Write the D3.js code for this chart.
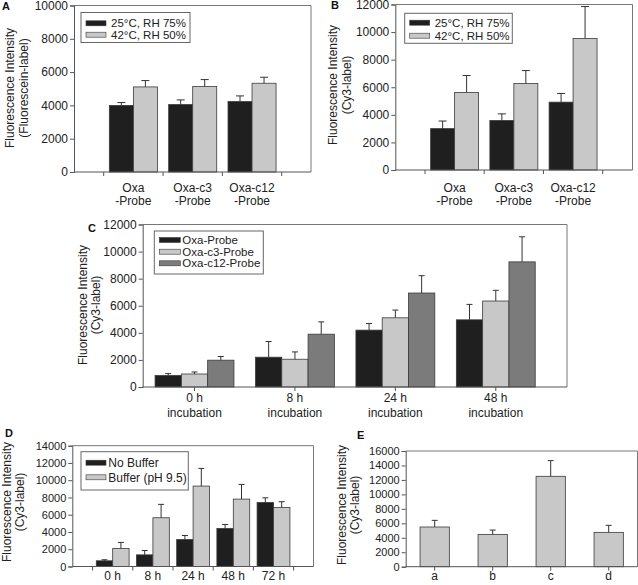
<!DOCTYPE html>
<html>
<head>
<meta charset="utf-8">
<script src="https://cdn.jsdelivr.net/npm/d3@7"></script>
<style>
  body { margin: 0; background: #fff; }
  svg { display: block; font-family: Arial, "Liberation Sans", sans-serif; }
</style>
</head>
<body>
<svg id="chart" width="638" height="585"></svg>
<script>
// ---------- DATA ----------
const seriesAB = ["25°C, RH 75%", "42°C, RH 50%"];
const catsAB = ["Oxa\n-Probe", "Oxa-c3\n-Probe", "Oxa-c12\n-Probe"];

const aLow = [4000, 4050, 4230];
const aLowErr = [170, 280, 340];
const aHigh = [5110, 5130, 5330];
const aHighErr = [380, 420, 360];

const bLow = [3000, 3590, 4920];
const bLowErr = [550, 480, 630];
const bHigh = [5620, 6270, 9540];
const bHighErr = [1230, 940, 2310];

const seriesC = ["Oxa-Probe", "Oxa-c3-Probe", "Oxa-c12-Probe"];
const catsC = ["0 h\nincubation", "8 h\nincubation", "24 h\nincubation", "48 h\nincubation"];
const cOxa = [850, 2200, 4200, 4960];
const cOxaErr = [140, 1160, 490, 1140];
const cC3 = [960, 2050, 5110, 6350];
const cC3Err = [150, 540, 570, 790];
const cC12 = [1980, 3900, 6940, 9240];
const cC12Err = [270, 910, 1280, 1850];

const seriesD = ["No Buffer", "Buffer (pH 9.5)"];
const catsD = ["0 h", "8 h", "24 h", "48 h", "72 h"];
const dNoBuf = [660, 1350, 3130, 4410, 7420];
const dNoBufErr = [120, 500, 460, 460, 540];
const dBuf = [2090, 5650, 9320, 7810, 6850];
const dBufErr = [700, 1550, 2050, 1700, 660];

const catsE = ["a", "b", "c", "d"];
const eVals = [5490, 4470, 12500, 4750];
const eErr = [920, 600, 2170, 970];

const ticksA = [0, 2000, 4000, 6000, 8000, 10000];
const ticksBC = [0, 2000, 4000, 6000, 8000, 10000, 12000];
const ticksD = [0, 2000, 4000, 6000, 8000, 10000, 12000, 14000];
const ticksE = [0, 2000, 4000, 6000, 8000, 10000, 12000, 14000, 16000];

// ---------- STYLE ----------
const C_BLACK = "#1f1f1f", C_LIGHT = "#c8c8c8", C_DARK = "#7b7b7b";
const AX = "#555";

const svg = d3.select("#chart");

function panel(o) {
  const g = svg.append("g");
  const y = d3.scaleLinear().domain(o.yDomain).range([o.y0, o.y1]);
  const x = d3.scaleBand().domain(o.cats).range(o.bandRange).paddingInner(0).paddingOuter(0);
  const sub = d3.scaleBand().domain(o.series.map((s, i) => i))
    .range([0, x.bandwidth()]).paddingInner(0).paddingOuter(o.subPad);

  // frame (top & right)
  g.append("path")
    .attr("d", `M${o.xL},${o.y1}H${o.xR}V${o.y0}`)
    .attr("fill", "none").attr("stroke", "#777").attr("stroke-width", 1);

  // y axis
  const ya = g.append("g").attr("transform", `translate(${o.xL},0)`)
    .call(d3.axisLeft(y).tickValues(o.yTicks).tickSize(4).tickPadding(2).tickFormat(d3.format("d")));
  ya.selectAll("path,line").attr("stroke", AX);
  ya.selectAll("text").attr("font-size", o.tickFont).attr("fill", "#222")
    .attr("font-family", "Arial, 'Liberation Sans', sans-serif");

  // bars
  o.series.forEach((s, si) => {
    const vals = o.values[si], errs = o.errs[si];
    o.cats.forEach((c, ci) => {
      const bx = x(c) + sub(si);
      const bw = sub.bandwidth();
      g.append("rect")
        .attr("x", bx).attr("y", y(vals[ci]))
        .attr("width", bw).attr("height", y(0) - y(vals[ci]))
        .attr("fill", o.colors[si]).attr("stroke", "#3a3a3a").attr("stroke-width", 0.8);
      const cx = bx + bw / 2;
      g.append("line").attr("x1", cx).attr("x2", cx)
        .attr("y1", y(vals[ci])).attr("y2", y(vals[ci] + errs[ci]))
        .attr("stroke", "#333").attr("stroke-width", 1);
      g.append("line").attr("x1", cx - o.cap / 2).attr("x2", cx + o.cap / 2)
        .attr("y1", y(vals[ci] + errs[ci])).attr("y2", y(vals[ci] + errs[ci]))
        .attr("stroke", "#333").attr("stroke-width", 1);
    });
  });

  // x axis line
  g.append("line").attr("x1", o.xL).attr("x2", o.xR).attr("y1", o.y0).attr("y2", o.y0)
    .attr("stroke", AX).attr("stroke-width", 1);
  // x ticks
  let tickXs;
  if (o.tickMode === "center") {
    tickXs = o.cats.map(c => x(c) + x.bandwidth() / 2);
  } else {
    tickXs = o.cats.map(c => x(c)).concat([x(o.cats[o.cats.length - 1]) + x.bandwidth()]);
  }
  tickXs.forEach(tx => {
    g.append("line").attr("x1", tx).attr("x2", tx).attr("y1", o.y0).attr("y2", o.y0 + 4)
      .attr("stroke", AX);
  });
  // x labels
  o.cats.forEach(c => {
    const lines = c.split("\n");
    lines.forEach((ln, li) => {
      g.append("text").attr("x", x(c) + x.bandwidth() / 2).attr("y", o.xLabY[li])
        .attr("text-anchor", "middle").attr("font-size", o.xFont).attr("fill", "#222").text(ln);
    });
  });

  // y title
  o.yTitle.forEach((t, i) => {
    g.append("text")
      .attr("transform", `translate(${o.yTitleX[i]},${o.yTitleY}) rotate(-90)`)
      .attr("text-anchor", "middle").attr("dy", "0.35em")
      .attr("font-size", 12).attr("fill", "#222").text(t);
  });

  // panel letter
  g.append("text").attr("x", o.letterPos[0]).attr("y", o.letterPos[1])
    .attr("font-size", 11).attr("font-weight", "bold").attr("fill", "#111").text(o.letter);

  // legend
  if (o.legend) {
    const L = o.legend;
    g.append("rect").attr("x", L.x).attr("y", L.y).attr("width", L.w).attr("height", L.h)
      .attr("fill", "#fff").attr("stroke", "#666").attr("stroke-width", 1);
    o.series.forEach((s, si) => {
      const ry = L.rows[si];
      g.append("rect").attr("x", L.sx).attr("y", ry - 2.5).attr("width", L.sw).attr("height", 5)
        .attr("fill", o.colors[si]).attr("stroke", "#3a3a3a").attr("stroke-width", 0.6);
      g.append("text").attr("x", L.tx).attr("y", ry).attr("dy", "0.35em")
        .attr("font-size", L.font).attr("fill", "#222").text(s);
    });
  }
}

// Panel A
panel({
  letter: "A", letterPos: [2, 10],
  cats: catsAB, series: seriesAB,
  values: [aLow, aHigh], errs: [aLowErr, aHighErr], colors: [C_BLACK, C_LIGHT],
  yDomain: [0, 10000], y0: 172, y1: 5.5, yTicks: ticksA,
  xL: 74, xR: 311, bandRange: [103.7, 281.7], subPad: 0.235, cap: 8,
  tickMode: "bound", tickFont: 12, xFont: 12, xLabY: [192, 205],
  yTitle: ["Fluorescence Intensity", "(Fluorescein-label)"], yTitleX: [10, 23.5], yTitleY: 88,
  legend: { x: 81, y: 12.5, w: 109, h: 30, sx: 86, sw: 20, tx: 111, rows: [23.3, 34.7], font: 11.5 }
});

// Panel B
panel({
  letter: "B", letterPos: [331, 9],
  cats: catsAB, series: seriesAB,
  values: [bLow, bHigh], errs: [bLowErr, bHighErr], colors: [C_BLACK, C_LIGHT],
  yDomain: [0, 12000], y0: 170, y1: 4.5, yTicks: ticksBC,
  xL: 395.3, xR: 632.5, bandRange: [425, 602.7], subPad: 0.235, cap: 8,
  tickMode: "bound", tickFont: 12, xFont: 12, xLabY: [192, 205],
  yTitle: ["Fluorescence Intensity", "(Cy3-label)"], yTitleX: [333, 346.5], yTitleY: 85,
  legend: { x: 404.7, y: 13.3, w: 107.6, h: 30, sx: 409.7, sw: 20, tx: 434.7, rows: [22.7, 35.7], font: 11.5 }
});

// Panel C
panel({
  letter: "C", letterPos: [88, 232],
  cats: catsC, series: seriesC,
  values: [cOxa, cC3, cC12], errs: [cOxaErr, cC3Err, cC12Err], colors: [C_BLACK, C_LIGHT, C_DARK],
  yDomain: [0, 12000], y0: 387, y1: 224.5, yTicks: ticksBC,
  xL: 142.7, xR: 567, bandRange: [144.3, 546], subPad: 0.41, cap: 6,
  tickMode: "center", tickFont: 12, xFont: 12, xLabY: [402, 417],
  yTitle: ["Fluorescence Intensity", "(Cy3-label)"], yTitleX: [83, 96], yTitleY: 305,
  legend: { x: 154.3, y: 231, w: 109, h: 43, sx: 159.3, sw: 21, tx: 182.3, rows: [240, 251.7, 263.3], font: 11.5 }
});

// Panel D
panel({
  letter: "D", letterPos: [5, 437],
  cats: catsD, series: seriesD,
  values: [dNoBuf, dBuf], errs: [dNoBufErr, dBufErr], colors: [C_BLACK, C_LIGHT],
  yDomain: [0, 14000], y0: 566.5, y1: 445.7, yTicks: ticksD,
  xL: 72.3, xR: 313.5, bandRange: [92.6, 293.6], subPad: 0.225, cap: 6,
  tickMode: "bound", tickFont: 11, xFont: 12, xLabY: [580],
  yTitle: ["Fluorescence Intensity", "(Cy3-label)"], yTitleX: [7, 20], yTitleY: 502,
  legend: { x: 81, y: 451.7, w: 107.3, h: 38.3, sx: 86, sw: 20, tx: 108.3, rows: [462.7, 477.3], font: 12 }
});

// Panel E
panel({
  letter: "E", letterPos: [357, 439],
  cats: catsE, series: ["E"],
  values: [eVals], errs: [eErr], colors: [C_LIGHT],
  yDomain: [0, 16000], y0: 566.7, y1: 451, yTicks: ticksE,
  xL: 405.7, xR: 637.5, bandRange: [405.7, 637.7], subPad: 0.49, cap: 6,
  tickMode: "center", tickFont: 11, xFont: 12, xLabY: [580],
  yTitle: ["Fluorescence Intensity", "(Cy3-label)"], yTitleX: [342, 355], yTitleY: 505,
  legend: null
});
</script>
</body>
</html>
